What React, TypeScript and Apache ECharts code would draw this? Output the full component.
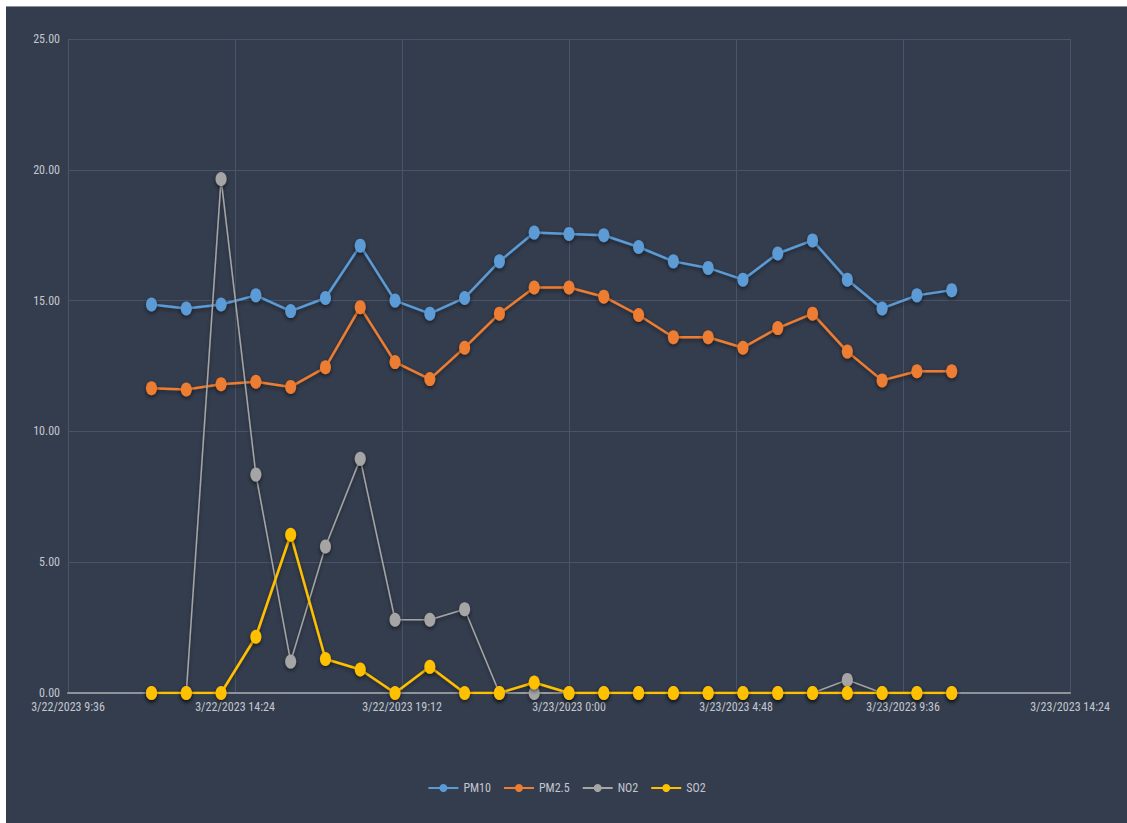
import React, { useEffect, useRef } from "react";
import * as echarts from "echarts";

// Hourly readings, 3/22/2023 12:00 through 3/23/2023 11:00
const timestamps = [
  "2023-03-22T12:00", "2023-03-22T13:00", "2023-03-22T14:00", "2023-03-22T15:00",
  "2023-03-22T16:00", "2023-03-22T17:00", "2023-03-22T18:00", "2023-03-22T19:00",
  "2023-03-22T20:00", "2023-03-22T21:00", "2023-03-22T22:00", "2023-03-22T23:00",
  "2023-03-23T00:00", "2023-03-23T01:00", "2023-03-23T02:00", "2023-03-23T03:00",
  "2023-03-23T04:00", "2023-03-23T05:00", "2023-03-23T06:00", "2023-03-23T07:00",
  "2023-03-23T08:00", "2023-03-23T09:00", "2023-03-23T10:00", "2023-03-23T11:00",
];

const pm10 = [
  14.85, 14.7, 14.85, 15.2, 14.6, 15.1, 17.1, 15.0, 14.5, 15.1, 16.5, 17.6,
  17.55, 17.5, 17.05, 16.5, 16.25, 15.8, 16.8, 17.3, 15.8, 14.7, 15.2, 15.4,
];
const pm25 = [
  11.65, 11.6, 11.8, 11.9, 11.7, 12.45, 14.75, 12.65, 12.0, 13.2, 14.5, 15.5,
  15.5, 15.15, 14.45, 13.6, 13.6, 13.2, 13.95, 14.5, 13.05, 11.95, 12.3, 12.3,
];
const no2 = [
  0, 0, 19.65, 8.35, 1.2, 5.6, 8.95, 2.8, 2.8, 3.2, 0, 0,
  0, 0, 0, 0, 0, 0, 0, 0, 0.5, 0, 0, 0,
];
const so2 = [
  0, 0, 0, 2.15, 6.05, 1.3, 0.9, 0, 1.0, 0, 0, 0.4,
  0, 0, 0, 0, 0, 0, 0, 0, 0, 0, 0, 0,
];

// x axis: hours since 3/22/2023 0:00, ticks every 4.8 h (4:48)
const axisStartHours = 9.6;
const axisEndHours = 38.4;
const tickStepHours = 4.8;
const yTicks = [0, 5, 10, 15, 20, 25];

const seriesNames = ["PM10", "PM2.5", "NO2", "SO2"];
const seriesColors = ["#5b9bd5", "#ed7d31", "#a5a5a5", "#ffc000"];

const baseDay = new Date(2023, 2, 22, 0, 0).getTime();

function hoursOf(ts: string): number {
  const [d, t] = ts.split("T");
  const [y, m, day] = d.split("-").map(Number);
  const [hh, mm] = t.split(":").map(Number);
  return (new Date(y, m - 1, day, hh, mm).getTime() - baseDay) / 3600000;
}

function formatHours(h: number): string {
  const totalMin = Math.round(h * 60);
  const dt = new Date(baseDay + totalMin * 60000);
  const mm = dt.getMinutes();
  return `${dt.getMonth() + 1}/${dt.getDate()}/${dt.getFullYear()} ${dt.getHours()}:${mm < 10 ? "0" + mm : mm}`;
}

const FONT = "'Liberation Sans Narrow', 'Roboto Condensed', Roboto, 'Liberation Sans', sans-serif";
const LABEL_COLOR = "#c3c7cf";

export default function App() {
  const ref = useRef<HTMLDivElement>(null);

  useEffect(() => {
    if (!ref.current) return;
    const chart = echarts.init(ref.current, undefined, { renderer: "svg" });
    const xs = timestamps.map(hoursOf);
    const values = [pm10, pm25, no2, so2];

    const series = seriesNames.map((name, i) => {
      const thin = name === "NO2";
      return {
        name,
        type: "line",
        data: xs.map((x, k) => [x, values[i][k]]),
        symbol: "circle",
        symbolSize: [11, 14],
        showAllSymbol: true,
        lineStyle: {
          color: seriesColors[i],
          width: thin ? 1.5 : 2.5,
          shadowBlur: 4,
          shadowColor: "rgba(0,0,0,0.45)",
          shadowOffsetY: 2,
        },
        itemStyle: {
          color: seriesColors[i],
          borderColor: seriesColors[i],
          borderWidth: 0,
          shadowBlur: 4,
          shadowColor: "rgba(0,0,0,0.55)",
          shadowOffsetY: 2,
        },
        emphasis: { disabled: true },
        z: 2 + i,
      };
    });

    chart.setOption({
      animation: false,
      backgroundColor: "#343d4e",
      textStyle: { fontFamily: FONT },
      grid: { left: 62, right: 57, top: 32, bottom: 130, containLabel: false },
      legend: {
        data: seriesNames,
        bottom: 24,
        left: "center",
        itemWidth: 30,
        itemHeight: 10,
        itemGap: 12,
        textStyle: { color: LABEL_COLOR, fontSize: 12, fontFamily: FONT },
      },
      xAxis: {
        type: "value",
        min: axisStartHours,
        max: axisEndHours,
        interval: tickStepHours,
        axisLine: { show: true, onZero: true, lineStyle: { color: "#8f949c", width: 2 } },
        axisTick: { show: false },
        axisLabel: {
          color: LABEL_COLOR,
          fontSize: 12,
          fontFamily: FONT,
          margin: 8,
          showMinLabel: true,
          showMaxLabel: true,
          formatter: (v: number) => formatHours(v),
        },
        splitLine: { show: true, lineStyle: { color: "#4a5467", width: 1 } },
      },
      yAxis: {
        type: "value",
        min: yTicks[0],
        max: yTicks[yTicks.length - 1],
        interval: yTicks[1] - yTicks[0],
        axisLine: { show: false },
        axisTick: { show: false },
        axisLabel: {
          color: LABEL_COLOR,
          fontSize: 12,
          fontFamily: FONT,
          margin: 8,
          formatter: (v: number) => v.toFixed(2),
        },
        splitLine: { show: true, lineStyle: { color: "#4a5467", width: 1 } },
      },
      series,
    });

    return () => chart.dispose();
  }, []);

  return (
    <div
      style={{
        position: "absolute",
        left: 0,
        top: 0,
        width: 1127,
        height: 823,
        background: "#ffffff",
      }}
    >
      <div
        style={{
          position: "absolute",
          left: 6,
          top: 6,
          width: 1121,
          height: 817,
          borderTop: "1px solid #8b9099",
          boxSizing: "border-box",
          background: "#343d4e",
        }}
      >
        <div ref={ref} style={{ width: 1121, height: 816 }} />
      </div>
    </div>
  );
}
